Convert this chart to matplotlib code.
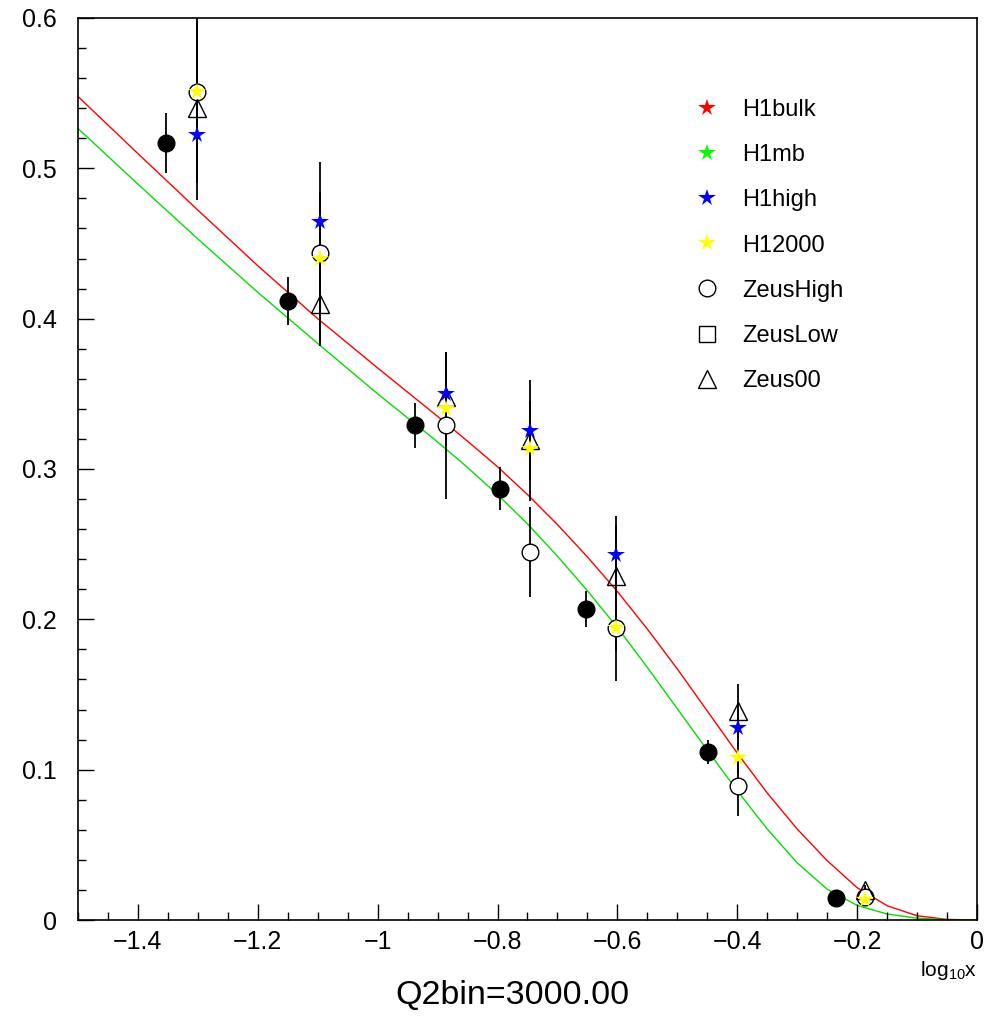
import matplotlib
matplotlib.use("Agg")
import matplotlib.pyplot as plt
from matplotlib.lines import Line2D
from matplotlib.ticker import MultipleLocator, FixedLocator, FixedFormatter

plt.rcParams["font.family"] = ["Liberation Sans", "DejaVu Sans"]
plt.rcParams["mathtext.default"] = "regular"

# --- courbes ---
red_x = [-1.5, -1.4, -1.3, -1.2, -1.1, -1.0, -0.9, -0.85, -0.8, -0.75, -0.7,
         -0.65, -0.6, -0.55, -0.5, -0.45, -0.4, -0.35, -0.3, -0.25, -0.2,
         -0.15, -0.1, -0.05, 0.0]
red_y = [0.5478, 0.5098, 0.4722, 0.4352, 0.4000, 0.3672, 0.3350, 0.3185,
         0.3015, 0.2830, 0.2630, 0.2415, 0.2185, 0.1935, 0.1670, 0.1390,
         0.1110, 0.0845, 0.0605, 0.0395, 0.0215, 0.0095, 0.0028, 0.0004, 0.0]

green_x = [-1.5, -1.4, -1.3, -1.2, -1.1, -1.0, -0.9, -0.85, -0.8, -0.75, -0.7,
           -0.65, -0.6, -0.55, -0.5, -0.45, -0.4, -0.35, -0.3, -0.25, -0.2,
           -0.15, -0.1, -0.05, 0.0]
green_y = [0.5265, 0.4895, 0.4530, 0.4175, 0.3835, 0.3500, 0.3180, 0.3010,
           0.2830, 0.2635, 0.2420, 0.2190, 0.1945, 0.1680, 0.1405, 0.1130,
           0.0860, 0.0605, 0.0380, 0.0205, 0.0097, 0.0040, 0.0012, 0.0002, 0.0]

# --- points noirs pleins ---
black_x = [-1.353, -1.150, -0.938, -0.796, -0.652, -0.449, -0.235]
black_y = [0.517, 0.412, 0.329, 0.287, 0.207, 0.112, 0.0146]
black_err = [0.020, 0.016, 0.015, 0.014, 0.012, 0.008, 0.003]

# --- ZeusHigh (cercles ouverts) ---
zh_x = [-1.301, -1.097, -0.886, -0.745, -0.602, -0.398, -0.187]
zh_y = [0.551, 0.444, 0.329, 0.245, 0.194, 0.089, 0.0153]
zh_err = [0.072, 0.060, 0.049, 0.030, 0.035, 0.020, 0.003]

# --- Zeus00 (triangles) ---
z00_x = [-1.301, -1.097, -0.886, -0.745, -0.602, -0.398, -0.187]
z00_y = [0.540, 0.410, 0.348, 0.319, 0.229, 0.139, 0.020]
z00_err = [0.050, 0.028, 0.030, 0.040, 0.040, 0.018, 0.003]

# --- H1high (étoiles bleues) ---
h1high_x = [-1.301, -1.097, -0.886, -0.745, -0.602, -0.398]
h1high_y = [0.522, 0.464, 0.350, 0.325, 0.243, 0.128]
h1high_err = [0.018, 0.020, 0.028, 0.020, 0.020, 0.012]

# --- H12000 (étoiles jaunes) ---
h12000_x = [-1.301, -1.097, -0.886, -0.745, -0.602, -0.398, -0.187]
h12000_y = [0.551, 0.440, 0.340, 0.313, 0.194, 0.108, 0.013]
h12000_err = [0.047, 0.025, 0.025, 0.020, 0.015, 0.010, 0.003]

x_ticks = [-1.4, -1.2, -1.0, -0.8, -0.6, -0.4, -0.2, 0.0]
x_tick_labels = ["\u22121.4", "\u22121.2", "\u22121", "\u22120.8", "\u22120.6",
                 "\u22120.4", "\u22120.2", "0"]
y_ticks = [0.0, 0.1, 0.2, 0.3, 0.4, 0.5, 0.6]
y_tick_labels = ["0", "0.1", "0.2", "0.3", "0.4", "0.5", "0.6"]

legend_labels = ["H1bulk", "H1mb", "H1high", "H12000", "ZeusHigh", "ZeusLow", "Zeus00"]

fig = plt.figure(figsize=(9.87, 10.17), dpi=100)
ax = fig.add_axes([78 / 987, 1 - 920 / 1017, 899 / 987, 902 / 1017])

ax.plot(red_x, red_y, color="#ff0000", lw=1.0, zorder=1)
ax.plot(green_x, green_y, color="#00e000", lw=1.0, zorder=1)

err_style = dict(fmt="none", ecolor="black", elinewidth=1.3, capsize=0, zorder=2)
for xs, ys, es in [(black_x, black_y, black_err), (zh_x, zh_y, zh_err),
                   (z00_x, z00_y, z00_err), (h1high_x, h1high_y, h1high_err),
                   (h12000_x, h12000_y, h12000_err)]:
    ax.errorbar(xs, ys, yerr=es, **err_style)

ax.plot(black_x, black_y, "o", color="black", ms=12, zorder=3)
ax.plot(zh_x, zh_y, "o", mfc="white", mec="black", mew=1.0, ms=12, zorder=3)
ax.plot(z00_x, z00_y, "^", mfc="none", mec="black", mew=1.0, ms=13, zorder=4)
ax.plot(h1high_x, h1high_y, "*", color="#0000ff", ms=13, mew=0, zorder=5)
ax.plot(h12000_x, h12000_y, "*", color="#ffff00", ms=13, mew=0, zorder=5)

ax.set_xlim(-1.5, 0.0)
ax.set_ylim(0.0, 0.6)

ax.xaxis.set_major_locator(FixedLocator(x_ticks))
ax.xaxis.set_major_formatter(FixedFormatter(x_tick_labels))
ax.xaxis.set_minor_locator(MultipleLocator(0.05))
ax.yaxis.set_major_locator(FixedLocator(y_ticks))
ax.yaxis.set_major_formatter(FixedFormatter(y_tick_labels))
ax.yaxis.set_minor_locator(MultipleLocator(0.02))
ax.tick_params(which="both", direction="in", top=False, right=False,
               labelsize=18, width=1.0)
ax.tick_params(which="major", length=11.5)
ax.tick_params(which="minor", length=5.5)
ax.tick_params(axis="x", pad=7)
ax.tick_params(axis="y", pad=15)
for s in ax.spines.values():
    s.set_linewidth(1.2)

handles = [
    Line2D([], [], ls="none", marker="*", color="#ff0000", ms=13, mew=0),
    Line2D([], [], ls="none", marker="*", color="#00ff00", ms=13, mew=0),
    Line2D([], [], ls="none", marker="*", color="#0000ff", ms=13, mew=0),
    Line2D([], [], ls="none", marker="*", color="#ffff00", ms=13, mew=0),
    Line2D([], [], ls="none", marker="o", mfc="white", mec="black", ms=12),
    Line2D([], [], ls="none", marker="s", mfc="white", mec="black", ms=12),
    Line2D([], [], ls="none", marker="^", mfc="white", mec="black", ms=13),
]
ax.legend(handles, legend_labels, loc="upper left", bbox_to_anchor=(0.6863, 0.910),
          frameon=False, fontsize=17, handlelength=1.0, handletextpad=1.0,
          labelspacing=0.98, borderpad=0, borderaxespad=0)

fig.text(977 / 987, 1 - 970 / 1017, "log$_{10}$x", ha="right", va="center", fontsize=15)
fig.text(512 / 987, 1 - 995 / 1017, "Q2bin=3000.00", ha="center", va="center", fontsize=24.5)

fig.savefig("out.png", dpi=100)
